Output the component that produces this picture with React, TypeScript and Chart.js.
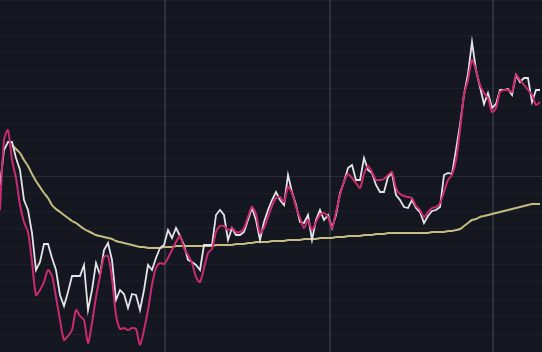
import React, { useEffect, useRef } from "react";
import { Chart, registerables } from "chart.js";

Chart.register(...registerables);

// one sample every step along the session (136 samples)
const priceWhite: number[] = [
  167, 202, 210, 210, 194, 182, 152, 142, 119, 82, 90, 108, 108, 94, 82, 57,
  46, 60, 76, 76, 76, 87, 42, 62, 89, 77, 102, 109, 92, 52, 62, 58,
  44, 58, 57, 42, 62, 87, 82, 94, 104, 107, 122, 114, 124, 116, 107, 92,
  90, 87, 82, 107, 107, 107, 137, 142, 137, 112, 124, 117, 117, 120, 132, 144,
  132, 112, 130, 142, 152, 160, 152, 147, 177, 160, 147, 130, 129, 137, 112, 132,
  142, 132, 137, 124, 137, 159, 170, 184, 187, 172, 172, 194, 182, 179, 167, 160,
  160, 175, 179, 157, 152, 145, 144, 152, 144, 140, 129, 136, 141, 142, 145, 177,
  179, 178, 202, 227, 257, 278, 310, 282, 265, 248, 259, 244, 248, 262, 262, 263,
  257, 277, 270, 274, 274, 250, 262, 262,
];

const pricePink: number[] = [
  142, 212, 222, 192, 174, 147, 130, 120, 90, 57, 62, 70, 82, 76, 55, 32,
  12, 16, 22, 42, 36, 32, 9, 29, 55, 76, 95, 96, 73, 37, 23, 24,
  22, 24, 23, 7, 22, 42, 67, 84, 89, 88, 94, 102, 110, 116, 104, 97,
  89, 75, 70, 84, 99, 103, 120, 126, 126, 122, 124, 120, 120, 124, 135, 145,
  138, 119, 124, 135, 146, 154, 155, 150, 165, 159, 145, 134, 124, 132, 122, 130,
  137, 139, 135, 124, 140, 157, 170, 178, 174, 169, 164, 178, 186, 180, 172, 172,
  173, 177, 180, 164, 158, 156, 155, 154, 146, 142, 135, 140, 144, 145, 149, 160,
  172, 177, 192, 222, 257, 272, 292, 282, 267, 259, 254, 240, 244, 260, 262, 262,
  260, 277, 272, 267, 262, 257, 247, 250,
];

const movingAvg: (number | null)[] = [
  null, null, null, 207, 203, 199, 192, 186, 178, 171, 165, 159, 154, 147, 143, 140,
  137, 134, 131, 129, 126, 123, 121, 119, 117, 116, 115, 114, 113, 111, 110, 109,
  108, 107, 106, 105, 105, 104, 104, 104, 104, 105, 105, 105, 106, 106, 106, 106,
  106, 106, 106, 106, 106, 106, 107, 107, 107, 107, 107, 108, 108, 108, 109, 109,
  110, 110, 110, 110, 111, 111, 111, 111, 112, 112, 112, 112, 113, 113, 113, 113,
  114, 114, 114, 114, 115, 115, 115, 116, 116, 116, 116, 117, 117, 117, 118, 118,
  118, 119, 119, 119, 119, 119, 119, 119, 119, 119, 119, 119, 120, 120, 120, 120,
  121, 121, 122, 123, 126, 129, 132, 133, 135, 136, 137, 138, 139, 140, 141, 142,
  143, 144, 145, 146, 147, 148, 148, 148,
];

const sessionBreaks: number[] = [41.25, 82.5, 123.25];

const Y_MIN = 0;
const Y_MAX = 352;
const Y_STEP = 17.6;
const MID_LEVEL = 176;

export default function App() {
  const ref = useRef<HTMLCanvasElement | null>(null);

  useEffect(() => {
    document.body.style.margin = "0";
    document.body.style.background = "#14171f";
    const canvas = ref.current;
    if (!canvas) return;
    const toPts = (arr: (number | null)[]) => arr.map((v, i) => ({ x: i, y: v }));
    const chart = new Chart(canvas, {
      type: "line",
      data: {
        datasets: [
          {
            data: toPts(pricePink) as any,
            borderColor: "#c92a72",
            borderWidth: 2,
            pointRadius: 0,
            tension: 0.25,
          },
          {
            data: toPts(priceWhite) as any,
            borderColor: "#e4e4e8",
            borderWidth: 1.8,
            pointRadius: 0,
            tension: 0,
          },
          {
            data: toPts(movingAvg) as any,
            borderColor: "#c6bb80",
            borderWidth: 2,
            pointRadius: 0,
            tension: 0.4,
            spanGaps: false,
          },
        ],
      },
      options: {
        animation: false,
        responsive: false,
        maintainAspectRatio: false,
        layout: { padding: 0 },
        plugins: { legend: { display: false }, tooltip: { enabled: false } },
        scales: {
          x: {
            type: "linear",
            min: 0,
            max: 135.5,
            border: { display: false },
            ticks: { display: false },
            afterBuildTicks: (axis: any) => {
              axis.ticks = sessionBreaks.map((v) => ({ value: v }));
            },
            grid: { color: "rgba(255,255,255,0.11)", lineWidth: 2, drawTicks: false },
          },
          y: {
            min: Y_MIN,
            max: Y_MAX,
            border: { display: false },
            ticks: { display: false, stepSize: Y_STEP },
            grid: {
              drawTicks: false,
              color: (ctx: any) =>
                ctx.tick && Math.abs(ctx.tick.value - MID_LEVEL) < 1
                  ? "rgba(255,255,255,0.09)"
                  : "rgba(255,255,255,0.04)",
            },
          },
        },
      },
    });
    return () => chart.destroy();
  }, []);

  return (
    <div style={{ width: 542, height: 352, background: "#14171f" }}>
      <canvas ref={ref} width={542} height={352} style={{ display: "block" }} />
    </div>
  );
}
